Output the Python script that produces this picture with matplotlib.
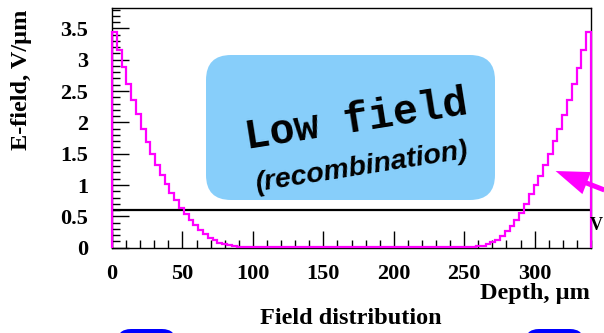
# campo.py
# Distribucion del campo electrico en profundidad (histograma tipo ROOT)

import matplotlib
matplotlib.use("Agg")
import matplotlib.pyplot as plt
from matplotlib.patches import FancyBboxPatch, FancyArrowPatch
from matplotlib.transforms import IdentityTransform

# -------------------------------
# Datos
# -------------------------------
prof_min = 0.0      # um
prof_max = 340.0    # um
n_bins = 100

# campo por bin, V/um (bins de 3.4 um)
campo_izq = [3.44, 3.16, 2.88, 2.61, 2.36, 2.13, 1.90, 1.69, 1.49, 1.32,
             1.16, 1.02, 0.88, 0.76, 0.64, 0.54, 0.44, 0.36, 0.28, 0.22,
             0.16, 0.12, 0.08, 0.055, 0.04, 0.025, 0.018, 0.014, 0.012, 0.01]
campo_medio = [0.01, 0.01, 0.01, 0.01, 0.01, 0.01, 0.01, 0.01, 0.01, 0.01,
               0.01, 0.01, 0.01, 0.01, 0.01, 0.01, 0.01, 0.01, 0.01, 0.01,
               0.01, 0.01, 0.01, 0.01, 0.01, 0.01, 0.01, 0.01, 0.01, 0.01,
               0.01, 0.01, 0.01, 0.01, 0.01, 0.01, 0.01, 0.01, 0.01, 0.01,
               0.01, 0.01, 0.01]
campo_der = [0.01, 0.012, 0.015, 0.02, 0.035, 0.06, 0.09, 0.13, 0.19, 0.26,
             0.34, 0.44, 0.56, 0.70, 0.85, 1.00, 1.15, 1.32, 1.50, 1.70,
             1.89, 2.12, 2.36, 2.61, 2.87, 3.15, 3.44]
campo = campo_izq + campo_medio + campo_der

umbral = 0.6   # V/um, linea negra

x_ticks = [0, 50, 100, 150, 200, 250, 300]
x_labels = ["0", "50", "100", "150", "200", "250", "300"]
y_ticks = [0, 0.5, 1, 1.5, 2, 2.5, 3, 3.5]
y_labels = ["0", "0.5", "1", "1.5", "2", "2.5", "3", "3.5"]

# -------------------------------
# Figura
# -------------------------------
W, H = 604, 333
fig = plt.figure(figsize=(W / 100, H / 100), dpi=100)
ax = fig.add_axes([112 / W, 85.3 / H, 479 / W, 239.4 / H])

serif = ["Liberation Serif", "DejaVu Serif"]

bordes = [prof_min + i * (prof_max - prof_min) / n_bins for i in range(n_bins + 1)]

ax.axhline(umbral, color="black", lw=1.6, zorder=2)
ax.stairs(campo, bordes, baseline=0, color="#ff00ff", lw=1.6, zorder=3, clip_on=False)

ax.set_xlim(prof_min, prof_max)
ax.set_ylim(0, 3.82)

ax.set_xticks(x_ticks)
ax.set_xticklabels(x_labels, family=serif, weight="bold", fontsize=16)
ax.set_yticks(y_ticks)
ax.set_yticklabels(y_labels, family=serif, weight="bold", fontsize=16)
ax.set_xticks(range(0, 341, 10), minor=True)
ax.set_yticks([i / 10 for i in range(0, 39)], minor=True)

ax.tick_params(which="both", direction="in", top=False, right=False, width=1, color="black")
ax.tick_params(axis="x", which="major", length=12.5, pad=11.5)
ax.tick_params(axis="x", which="minor", length=6)
ax.tick_params(axis="y", which="major", length=12.5, pad=17)
ax.tick_params(axis="y", which="minor", length=6)

for s in ax.spines.values():
    s.set_linewidth(1)

# Titulos de ejes
fig.text(22 / W, 1 - 80 / H, "E-field, V/\u00b5m", rotation=90, ha="center", va="center",
         family=serif, weight="bold", fontsize=17.5)
fig.text(590 / W, 1 - 294 / H, "Depth, \u00b5m", ha="right", va="center",
         family=serif, weight="bold", fontsize=17.5)
fig.text(351 / W, 1 - 318 / H, "Field distribution", ha="center", va="center",
         family=serif, weight="bold", fontsize=17.5)

# -------------------------------
# Recuadro "Low field"
# -------------------------------
caja = FancyBboxPatch((206, H - 200), 289, 145, boxstyle="round,pad=0,rounding_size=25",
                      transform=IdentityTransform(), facecolor="#87cefa", edgecolor="none", zorder=1)
fig.add_artist(caja)
fig.text(356 / W, 1 - 121 / H, "Low field", rotation=9, ha="center", va="center",
         family=["Liberation Mono", "DejaVu Sans Mono"], weight="bold", fontsize=30)
fig.text(362 / W, 1 - 167 / H, "(recombination)", rotation=9, ha="center", va="center",
         family=["Liberation Sans", "DejaVu Sans"], weight="bold", style="italic", fontsize=20.5)

# flecha magenta y restos de la diapositiva
flecha = FancyArrowPatch((607, H - 191), (553, H - 170), transform=IdentityTransform(),
                         arrowstyle="simple,head_length=24,head_width=17,tail_width=3.6",
                         mutation_scale=1, color="#ff00ff", lw=0, zorder=5)
fig.add_artist(flecha)
fig.text(603 / W, 1 - 226 / H, "V", ha="right", va="center", family=serif,
         weight="bold", fontsize=13)

for x0 in (117, 525):
    bola = FancyBboxPatch((x0, -30), 59, 34, boxstyle="round,pad=0,rounding_size=14",
                          transform=IdentityTransform(), facecolor="#0000ff", edgecolor="none")
    fig.add_artist(bola)

fig.savefig("out.png", dpi=100)
